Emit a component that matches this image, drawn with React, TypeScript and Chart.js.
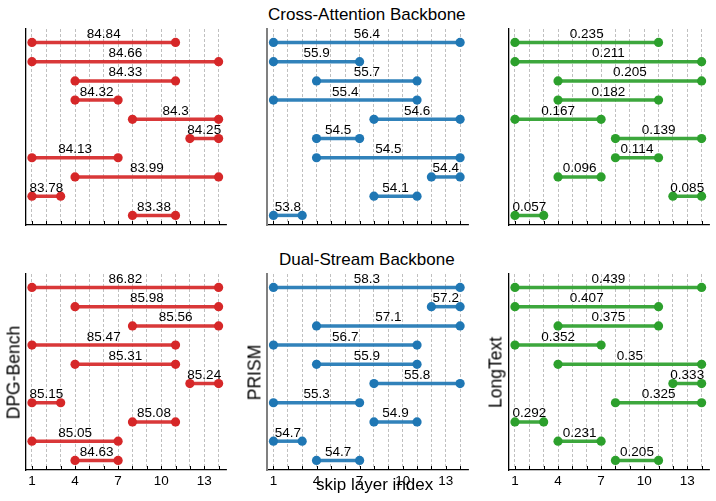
import React, { useEffect, useRef } from "react";
import { Chart, registerables } from "chart.js";

Chart.register(...registerables);

const FONT = '"Liberation Sans", Arial, Helvetica, sans-serif';

// skip-layer axis
const layerTicks = [1, 2, 3, 4, 5, 6, 7, 8, 9, 10, 11, 12, 13, 14];
const labeledTicks = [1, 4, 7, 10, 13];

// Cross-Attention backbone, rows sorted by score
const caDpgScores = [84.84, 84.66, 84.33, 84.32, 84.3, 84.25, 84.13, 83.99, 83.78, 83.38];
const caDpgFrom = [1, 1, 4, 4, 8, 12, 1, 4, 1, 8];
const caDpgTo = [11, 14, 11, 7, 14, 14, 7, 14, 3, 11];

const caPrismScores = [56.4, 55.9, 55.7, 55.4, 54.6, 54.5, 54.5, 54.4, 54.1, 53.8];
const caPrismFrom = [1, 1, 4, 1, 8, 4, 4, 12, 8, 1];
const caPrismTo = [14, 7, 11, 11, 14, 7, 14, 14, 11, 3];

const caLongScores = [0.235, 0.211, 0.205, 0.182, 0.167, 0.139, 0.114, 0.096, 0.085, 0.057];
const caLongFrom = [1, 1, 4, 4, 1, 8, 8, 4, 12, 1];
const caLongTo = [11, 14, 14, 11, 7, 14, 11, 7, 14, 3];

// Dual-Stream backbone, rows sorted by score
const dsDpgScores = [86.82, 85.98, 85.56, 85.47, 85.31, 85.24, 85.15, 85.08, 85.05, 84.63];
const dsDpgFrom = [1, 4, 8, 1, 4, 12, 1, 8, 1, 4];
const dsDpgTo = [14, 14, 14, 11, 11, 14, 3, 11, 7, 7];

const dsPrismScores = [58.3, 57.2, 57.1, 56.7, 55.9, 55.8, 55.3, 54.9, 54.7, 54.7];
const dsPrismFrom = [1, 12, 4, 1, 4, 8, 1, 8, 1, 4];
const dsPrismTo = [14, 14, 14, 11, 11, 14, 7, 11, 3, 7];

const dsLongScores = [0.439, 0.407, 0.375, 0.352, 0.35, 0.333, 0.325, 0.292, 0.231, 0.205];
const dsLongFrom = [1, 1, 4, 1, 4, 12, 8, 1, 4, 8];
const dsLongTo = [14, 11, 11, 7, 14, 14, 14, 3, 7, 11];

const RED = "#d62728";
const BLUE = "#1f77b4";
const GREEN = "#2ca02c";

const COL_LEFT = [25.5, 267, 508.5];
const ROW_TOP = [29, 274];
const PLOT_W = 201;
const PLOT_H = 196;

type PanelProps = {
  scores: number[];
  from: number[];
  to: number[];
  color: string;
  col: number;
  row: number;
  spineColor: string;
  spineWidth: number;
};

function hexA(hex: string, a: number) {
  const n = parseInt(hex.slice(1), 16);
  return `rgba(${(n >> 16) & 255},${(n >> 8) & 255},${n & 255},${a})`;
}

function Panel({ scores, from, to, color, col, row, spineColor, spineWidth }: PanelProps) {
  const ref = useRef<HTMLCanvasElement | null>(null);
  const showTickLabels = row === 1;
  const bottomSpace = showTickLabels ? 26 : 6;
  const canvasLeft = Math.floor(COL_LEFT[col]) - 12;
  const padL = COL_LEFT[col] - canvasLeft;
  const canvasW = 226;
  const padR = canvasW - padL - PLOT_W;
  const padT = 6;
  const canvasTop = ROW_TOP[row] - padT;
  const canvasH = padT + PLOT_H + bottomSpace;

  useEffect(() => {
    if (!ref.current) return;
    const datasets = scores.map((_, i) => ({
      data: [
        { x: from[i], y: i },
        { x: to[i], y: i },
      ],
      showLine: true,
      borderColor: hexA(color, 0.92),
      borderWidth: 3.5,
      pointRadius: 4.6,
      pointHoverRadius: 4.6,
      pointBorderWidth: 0,
      pointBackgroundColor: color,
      backgroundColor: color,
    }));

    const annotate = {
      id: "segmentAnnotations",
      afterDatasetsDraw(chart: any) {
        const { ctx, scales, chartArea } = chart;
        const x = scales.x;
        const y = scales.y;
        ctx.save();
        // inward tick marks along the bottom axis
        ctx.strokeStyle = "#000";
        ctx.lineWidth = 1;
        layerTicks.forEach((v) => {
          const px = Math.round(x.getPixelForValue(v)) + 0.5;
          ctx.beginPath();
          ctx.moveTo(px, chartArea.bottom);
          ctx.lineTo(px, chartArea.bottom - 4);
          ctx.stroke();
        });
        // score labels centred over each span
        ctx.font = `13.5px ${FONT}`;
        ctx.fillStyle = "#000";
        ctx.textAlign = "center";
        ctx.textBaseline = "alphabetic";
        scores.forEach((s, i) => {
          const px = x.getPixelForValue((from[i] + to[i]) / 2);
          const py = y.getPixelForValue(i) - 4.5;
          ctx.fillText(String(s), px, py);
        });
        ctx.restore();
      },
    };

    const chart = new Chart(ref.current, {
      type: "scatter",
      data: { datasets },
      options: {
        animation: false,
        responsive: false,
        events: [],
        layout: { padding: { left: padL, right: padR, top: padT, bottom: 0 } },
        plugins: {
          legend: { display: false },
          tooltip: { enabled: false },
          title: { display: false },
        },
        scales: {
          x: {
            type: "linear",
            position: "bottom",
            min: 0.55,
            max: 14.55,
            afterBuildTicks: (s: any) => {
              s.ticks = layerTicks.map((v) => ({ value: v }));
            },
            afterFit: (s: any) => {
              s.height = bottomSpace;
            },
            grid: { color: "#b0b0b0", lineWidth: 0.8, drawTicks: false },
            border: { display: true, color: "#000", width: 1.3, dash: [3, 2] },
            ticks: {
              display: showTickLabels,
              autoSkip: false,
              maxRotation: 0,
              padding: 3,
              color: "#000",
              font: { family: FONT, size: 13.5 },
              callback: (v: any) => (labeledTicks.includes(Number(v)) ? String(v) : ""),
            },
          },
          y: {
            type: "linear",
            reverse: true,
            min: -0.7,
            max: 9.5,
            afterFit: (s: any) => {
              s.width = 0;
            },
            ticks: { display: false },
            grid: { display: false },
            border: { display: true, color: spineColor, width: spineWidth },
          },
        },
      },
      plugins: [annotate],
    } as any);
    return () => chart.destroy();
  }, []);

  return (
    <canvas
      ref={ref}
      width={canvasW}
      height={canvasH}
      style={{
        position: "absolute",
        left: canvasLeft,
        top: canvasTop,
        width: canvasW,
        height: canvasH,
        display: "block",
      }}
    />
  );
}

const textBase: React.CSSProperties = {
  position: "absolute",
  fontFamily: FONT,
  fontSize: 17,
  lineHeight: "17px",
  color: "#000",
  textAlign: "center",
  whiteSpace: "nowrap",
};

function RotatedLabel({ text, cx, cy }: { text: string; cx: number; cy: number }) {
  return (
    <div
      style={{
        ...textBase,
        fontSize: 17.5,
        left: cx - 100,
        top: cy - 8.5,
        width: 200,
        height: 17,
        transform: "rotate(-90deg)",
      }}
    >
      {text}
    </div>
  );
}

export default function App() {
  return (
    <div
      style={{
        position: "fixed",
        left: 0,
        top: 0,
        width: 716,
        height: 501,
        background: "#fff",
        overflow: "hidden",
      }}
    >
      <div style={{ ...textBase, left: 166.8, top: 6.3, width: 400 }}>Cross-Attention Backbone</div>
      <div style={{ ...textBase, left: 166.8, top: 251.3, width: 400 }}>Dual-Stream Backbone</div>

      <Panel scores={caDpgScores} from={caDpgFrom} to={caDpgTo} color={RED} col={0} row={0} spineColor="#000" spineWidth={1.3} />
      <Panel scores={caPrismScores} from={caPrismFrom} to={caPrismTo} color={BLUE} col={1} row={0} spineColor="#808080" spineWidth={2} />
      <Panel scores={caLongScores} from={caLongFrom} to={caLongTo} color={GREEN} col={2} row={0} spineColor="#000" spineWidth={1.3} />
      <Panel scores={dsDpgScores} from={dsDpgFrom} to={dsDpgTo} color={RED} col={0} row={1} spineColor="#000" spineWidth={1.3} />
      <Panel scores={dsPrismScores} from={dsPrismFrom} to={dsPrismTo} color={BLUE} col={1} row={1} spineColor="#808080" spineWidth={2} />
      <Panel scores={dsLongScores} from={dsLongFrom} to={dsLongTo} color={GREEN} col={2} row={1} spineColor="#000" spineWidth={1.3} />

      <RotatedLabel text="DPG-Bench" cx={13.5} cy={372} />
      <RotatedLabel text="PRISM" cx={254.8} cy={372} />
      <RotatedLabel text="LongText" cx={496} cy={372} />

      <div style={{ ...textBase, left: 374.7 - 150, top: 475.6, width: 300 }}>skip layer index</div>
    </div>
  );
}
